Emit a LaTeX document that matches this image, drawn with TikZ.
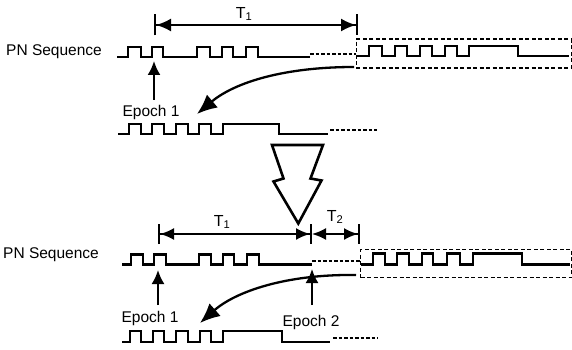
\documentclass[tikz,border=0pt]{standalone}
\usepackage{fontspec}
\setmainfont{Liberation Sans}
\usetikzlibrary{arrows.meta}
\begin{document}
\begin{tikzpicture}[x=1pt,y=-1pt,
  wave/.style={line width=2.4pt,line join=miter},
  dash line/.style={line width=1.5pt,dash pattern=on 3.5pt off 2pt},
  boxd/.style={line width=1.4pt,dash pattern=on 4pt off 2.5pt},
  dim/.style={line width=2pt},
  epar/.style={line width=2pt,-{Latex[length=14pt,width=13pt]}},
  curv/.style={line width=2.3pt,-{Latex[length=20pt,width=17pt]}},
  lbl/.style={font=\fontsize{15.5}{17}\selectfont,inner sep=0pt},
  tl/.style={font=\fontsize{16}{17}\selectfont,inner sep=0pt}
]
\useasboundingbox (0,0) rectangle (572,350);

% ---------------- upper half ----------------
\node[lbl,anchor=west] (pn1) at (6,52) {PN Sequence};

% T1 dimension
\coordinate (t1a) at (154,25);
\coordinate (t1b) at (358,25);
\draw[dim,{Bar[width=21pt]Latex[length=15pt,width=13pt]}-{Latex[length=15pt,width=13pt]Bar[width=21pt]}] (t1a) -- (t1b);
\node[tl] (T1u) at (244,14) {T\textsubscript{1}};

% PN waveform
\draw[wave] (117,57) -| (128,47) -| (141,57) -| (152,47) -| (163,57) -| (197,47) -| (210,57) -| (222,47) -| (233,57) -| (246,47) -| (258,57) -- (310,57);
\draw[dash line] (310,54) -- (356,54);

% dashed box with received segment
\node[draw,boxd,minimum width=215pt,minimum height=29pt,inner sep=0pt,anchor=north west] (box1) at (355.5,38.5) {};
\draw[wave] (357,56) -| (369,46) -| (382,56) -| (395,46) -| (407,56) -| (420,46) -| (432,56) -| (445,46) -| (457,56) -| (469,46) -| (518,56) -- (569,56);

% Epoch 1 arrow
\coordinate (e1b) at (154,100);
\coordinate (e1t) at (154,61);
\draw[epar] (e1b) -- (e1t);
\node[lbl] (ep1) at (151,112) {Epoch 1};

% curved arrow
\coordinate (c1s) at (354,67);
\coordinate (c1e) at (197,114);
\draw[curv] (c1s) .. controls (285,67) and (235,82) .. (c1e);

% local waveform
\draw[wave] (118,134) -| (129,124) -| (141,134) -| (152,124) -| (164,134) -| (176,124) -| (188,134) -| (199,124) -| (211,134) -| (223,124) -| (279,134) -- (328,134);
\draw[dash line] (330,130) -- (377,130);

% big hollow arrow
\draw[line width=2.6pt,line join=miter,fill=white] (272,145) -- (323,145) -- (310.5,178.5) -- (321.5,180.5) -- (298.3,223.5) -- (273.5,181.5) -- (283.5,178.5) -- cycle;

% ---------------- lower half ----------------
\node[lbl,anchor=west] (pn2) at (3,255) {PN Sequence};

\coordinate (t1c) at (158,234);
\coordinate (t1d) at (312,234);
\coordinate (t2e) at (360,234);
\draw[dim,{Bar[width=20pt]Latex[length=14pt,width=12pt]}-{Latex[length=14pt,width=12pt]Bar[width=20pt]}] (t1c) -- (t1d);
\draw[dim,{Latex[length=14pt,width=12pt]}-{Latex[length=14pt,width=12pt]Bar[width=20pt]}] (t1d) -- (t2e);
\node[tl] (T1l) at (222,222) {T\textsubscript{1}};
\node[tl] (T2l) at (335,217) {T\textsubscript{2}};

\draw[wave] (122,264.5) -| (131,254.5) -| (143,264.5) -| (154,254.5) -| (166,264.5) -| (199,254.5) -| (211,264.5) -| (223,254.5) -| (234,264.5) -| (247,254.5) -| (259,264.5) -- (312,264.5);
\draw[dash line] (312,261) -- (360,261);

\node[draw,boxd,minimum width=211pt,minimum height=28pt,inner sep=0pt,anchor=north west] (box2) at (360,249) {};
\draw[wave] (361,264.5) -| (373,253.5) -| (385,264.5) -| (397,253.5) -| (409,264.5) -| (422,253.5) -| (433,264.5) -| (447,253.5) -| (460,264.5) -| (473,253.5) -| (522,264.5) -- (570,264.5);

% Epoch arrows
\coordinate (e2b) at (158,305);
\coordinate (e2t) at (158,270);
\draw[epar] (e2b) -- (e2t);
\node[lbl] (ep1b) at (150,318) {Epoch 1};

\coordinate (e3b) at (312,305);
\coordinate (e3t) at (312,269);
\draw[epar] (e3b) -- (e3t);
\node[lbl] (ep2) at (311,322) {Epoch 2};

% curved arrow lower
\coordinate (c2s) at (356,275);
\coordinate (c2e) at (200,323);
\draw[curv] (c2s) .. controls (285,274) and (235,292) .. (c2e);

% local waveform lower
\draw[wave] (122,342) -| (130,331) -| (141,342) -| (153,331) -| (164,342) -| (176,331) -| (188,342) -| (200,331) -| (211,342) -| (223,331) -| (282,342) -- (330,342);
\draw[dash line] (333,338) -- (378,338);
\end{tikzpicture}
\end{document}
